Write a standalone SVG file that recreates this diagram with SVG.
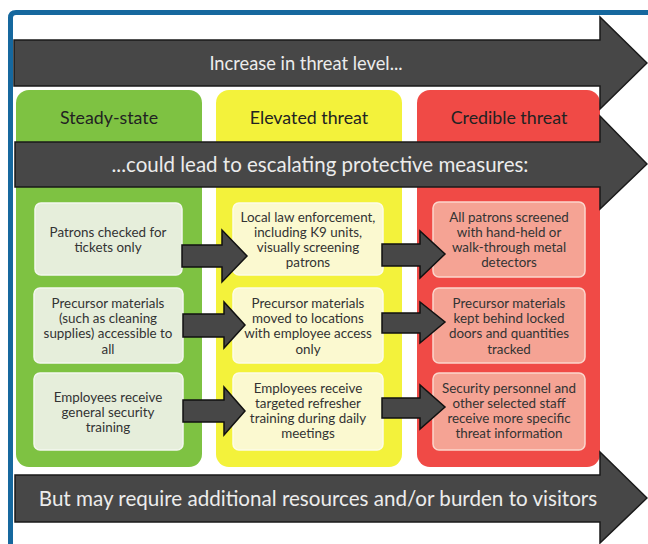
<svg xmlns="http://www.w3.org/2000/svg" width="648" height="544" viewBox="0 0 648 544">
<style>
.big{fill:#474747;stroke:#1a1a1a;stroke-width:1.5}
.sm{fill:#474747;stroke:#111;stroke-width:1.5}
.bt{font-family:Lato,"Open Sans",sans-serif;fill:#ececec;text-anchor:middle}
.hd{font-family:Lato,"Open Sans",sans-serif;font-size:17.8px;fill:#222;text-anchor:middle}
.tx{font-family:Lato,"Open Sans",sans-serif;font-size:13.4px;fill:#333;text-anchor:middle}
.gb{fill:#e6eedb;stroke:#f4f7ef;stroke-width:1.5}
.yb{fill:#fbf9d0;stroke:#fdfce8;stroke-width:1.5}
.rb{fill:#f5a394;stroke:#fbd6cc;stroke-width:1.5}
</style>
<rect x="0" y="0" width="648" height="544" fill="#ffffff"/>
<path d="M10.5 544 V18 Q10.5 12.5 16 12.5 H648" fill="none" stroke="#16689e" stroke-width="5"/>

<g id="col-steady">
<rect x="16" y="90" width="186" height="377" rx="13" fill="#7ec242"/>
<text class="hd" x="109" y="124">Steady-state</text>
</g>
<g id="col-elevated">
<rect x="216" y="90" width="186" height="377" rx="13" fill="#f3f23b"/>
<text class="hd" x="309" y="124">Elevated threat</text>
</g>
<g id="col-credible">
<rect x="417" y="90" width="183" height="377" rx="13" fill="#f04a46"/>
<text class="hd" x="509" y="124">Credible threat</text>
</g>

<g id="arrow-top">
<path class="big" d="M14 40 H600 V17 L647 63 L600 109 V86 H14 Z"/>
<text class="bt" x="306" y="70" font-size="18.3">Increase in threat level...</text>
</g>
<g id="arrow-mid">
<path class="big" d="M15 142 H600 V116 L647 164 L600 209 V187 H15 Z"/>
<text class="bt" x="320" y="172" font-size="20.5">...could lead to escalating protective measures:</text>
</g>
<g id="arrow-bottom">
<path class="big" d="M15 475 H600 V452 L647 498 L600 543 V522 H15 Z"/>
<text class="bt" x="318" y="506" font-size="20.6">But may require additional resources and/or burden to visitors</text>
</g>

<g id="g1"><rect class="gb" x="35" y="203" width="147" height="72" rx="6"/>
<text class="tx" x="108" y="237">Patrons checked for</text><text class="tx" x="108" y="252">tickets only</text></g>
<g id="g2"><rect class="gb" x="34" y="288" width="149" height="75" rx="6"/>
<text class="tx" x="108" y="308">Precursor materials</text><text class="tx" x="108" y="323">(such as cleaning</text><text class="tx" x="108" y="338">supplies) accessible to</text><text class="tx" x="108" y="354">all</text></g>
<g id="g3"><rect class="gb" x="34" y="373" width="149" height="77" rx="6"/>
<text class="tx" x="108" y="402">Employees receive</text><text class="tx" x="108" y="417">general security</text><text class="tx" x="108" y="432">training</text></g>

<g id="y1"><rect class="yb" x="233" y="203" width="150" height="72" rx="6"/>
<text class="tx" x="308" y="222">Local law enforcement,</text><text class="tx" x="308" y="237">including K9 units,</text><text class="tx" x="308" y="252">visually screening</text><text class="tx" x="308" y="267">patrons</text></g>
<g id="y2"><rect class="yb" x="233" y="288" width="150" height="75" rx="6"/>
<text class="tx" x="308" y="308">Precursor materials</text><text class="tx" x="308" y="323">moved to locations</text><text class="tx" x="308" y="338">with employee access</text><text class="tx" x="308" y="354">only</text></g>
<g id="y3"><rect class="yb" x="233" y="373" width="150" height="77" rx="6"/>
<text class="tx" x="308" y="393">Employees receive</text><text class="tx" x="308" y="408">targeted refresher</text><text class="tx" x="308" y="423">training during daily</text><text class="tx" x="308" y="438">meetings</text></g>

<g id="r1"><rect class="rb" x="433" y="202" width="152" height="75" rx="6"/>
<text class="tx" x="509" y="222">All patrons screened</text><text class="tx" x="509" y="237">with hand-held or</text><text class="tx" x="509" y="252">walk-through metal</text><text class="tx" x="509" y="267">detectors</text></g>
<g id="r2"><rect class="rb" x="433" y="288" width="152" height="75" rx="6"/>
<text class="tx" x="509" y="308">Precursor materials</text><text class="tx" x="509" y="323">kept behind locked</text><text class="tx" x="509" y="338">doors and quantities</text><text class="tx" x="509" y="354">tracked</text></g>
<g id="r3"><rect class="rb" x="433" y="373" width="152" height="77" rx="6"/>
<text class="tx" x="509" y="393">Security personnel and</text><text class="tx" x="509" y="408">other selected staff</text><text class="tx" x="509" y="423">receive more specific</text><text class="tx" x="509" y="438">threat information</text></g>

<g id="connectors">
<path class="sm" d="M182 245 H222 V230 L247 256 L222 282 V267 H182 Z"/>
<path class="sm" d="M183 314 H224 V302 L245 325 L224 348 V337 H183 Z"/>
<path class="sm" d="M183 400 H224 V387 L245 411 L224 435 V422 H183 Z"/>
<path class="sm" d="M382 244 H420 V231 L445 254 L420 278 V266 H382 Z"/>
<path class="sm" d="M382 313 H420 V302 L445 322 L420 343 V333 H382 Z"/>
<path class="sm" d="M382 398 H420 V385 L445 407 L420 429 V418 H382 Z"/>
</g>
</svg>
